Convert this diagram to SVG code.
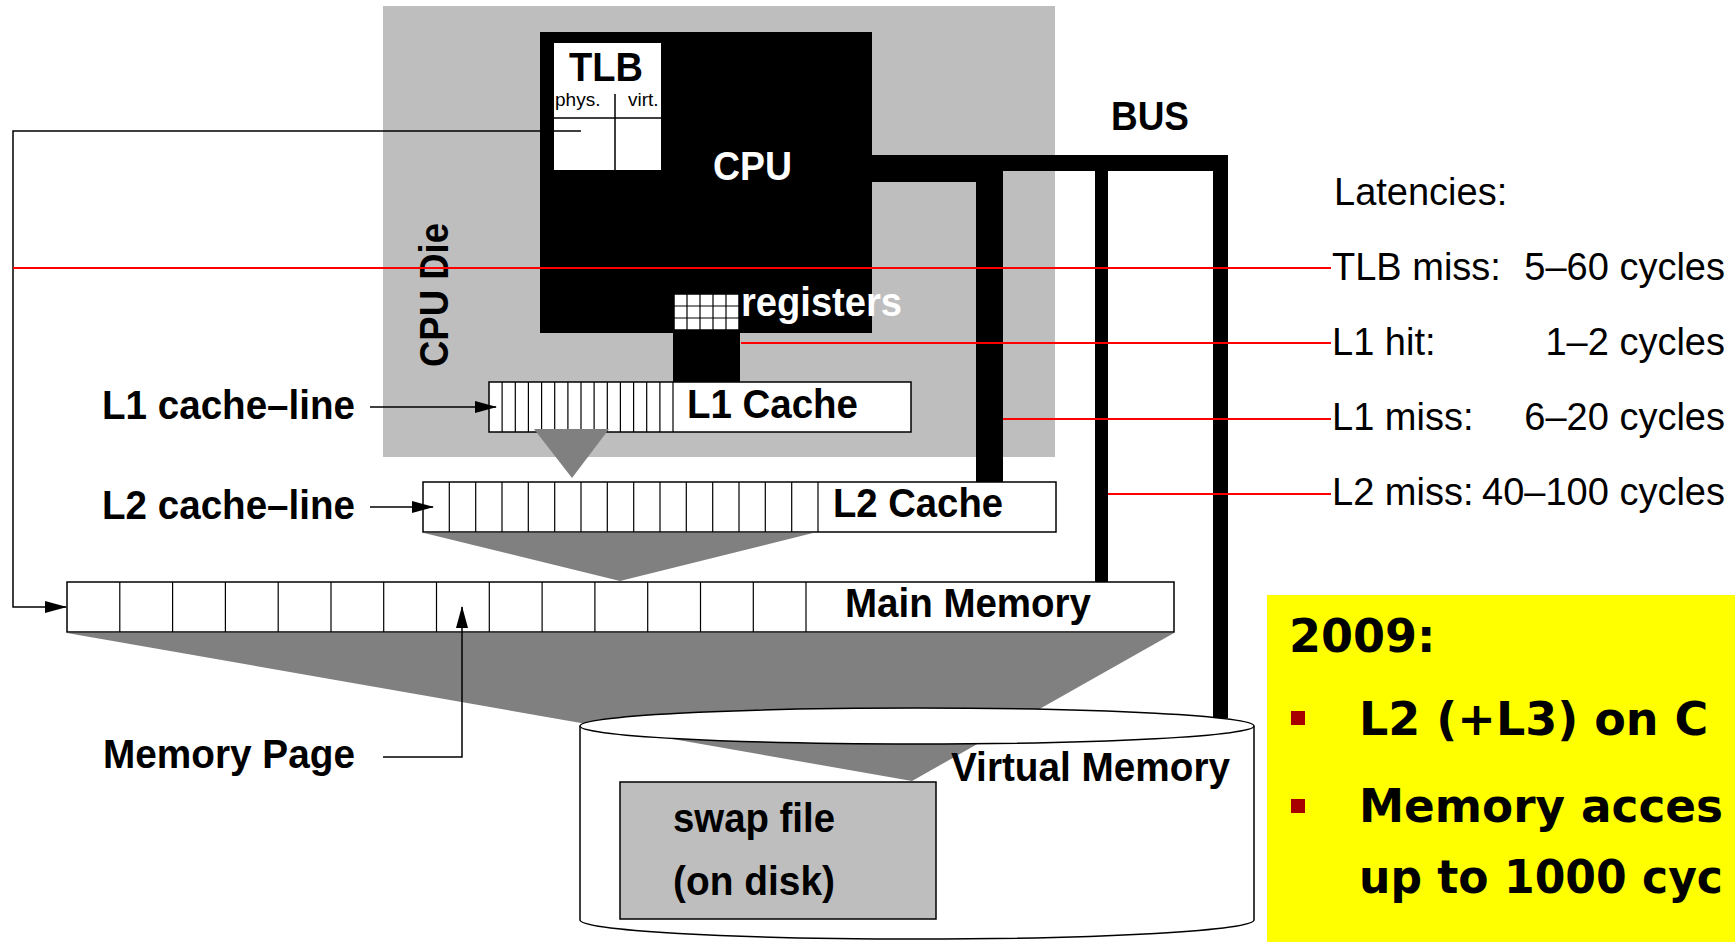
<svg xmlns="http://www.w3.org/2000/svg" width="1735" height="942" viewBox="0 0 1735 942">
<style>
.b{font-family:"Liberation Sans",Arial,sans-serif;font-weight:bold;font-size:40px;fill:#000}
.r{font-family:"Liberation Sans",Arial,sans-serif;font-size:38px;fill:#000}
.y{font-family:"DejaVu Sans",Verdana,sans-serif;font-weight:bold;font-size:46px;fill:#000}
.box{fill:#fff;stroke:#000;stroke-width:1.5}
.cell{fill:none;stroke:#000;stroke-width:1.2}
.tri{fill:#808080}
.ln{fill:none;stroke:#000;stroke-width:1.5}
.red{fill:none;stroke:#ff0000;stroke-width:2}
.bus{fill:#000}
</style>
<defs>
<marker id="arr" viewBox="0 0 22 12" markerUnits="userSpaceOnUse" markerWidth="22" markerHeight="12" refX="21" refY="6" orient="auto">
<path d="M0,0 L22,6 L0,12 Z" fill="#000"/>
</marker>
</defs>
<rect x="0" y="0" width="1735" height="942" fill="#fff"/>

<g id="cpu-die">
<rect x="383" y="6" width="672" height="451" fill="#bebebe"/>
<text class="b" transform="translate(448,367) rotate(-90)" font-size="37" textLength="144" lengthAdjust="spacingAndGlyphs">CPU Die</text>
</g>

<g id="cpu">
<rect x="540" y="32" width="332" height="301" fill="#000"/>
<text class="b" x="713" y="180" style="fill:#fff" textLength="79" lengthAdjust="spacingAndGlyphs">CPU</text>
</g>

<g id="tlb">
<rect x="554" y="43" width="107" height="127" fill="#fff"/>
<text class="b" x="569" y="81" textLength="74" lengthAdjust="spacingAndGlyphs">TLB</text>
<text x="555" y="106" font-family="Liberation Sans, Arial, sans-serif" font-size="19">phys.</text>
<text x="628" y="106" font-family="Liberation Sans, Arial, sans-serif" font-size="19">virt.</text>
<path class="ln" d="M554,118 H661 M615,94 V170"/>
</g>

<g id="registers">
<rect x="674" y="294" width="65" height="36" fill="#fff" stroke="#000" stroke-width="1.5"/>
<path class="cell" d="M687,294 V330 M700,294 V330 M713,294 V330 M726,294 V330 M674,306 H739 M674,318 H739"/>
<rect x="673" y="330" width="67" height="52" fill="#000"/>
<text class="b" x="741" y="316" font-size="34" style="fill:#fff" textLength="161" lengthAdjust="spacingAndGlyphs">registers</text>
</g>

<g id="l1-cache">
<rect class="box" x="489" y="382" width="422" height="50"/>
<path class="cell" d="M502.1,382V432M515.3,382V432M528.4,382V432M541.6,382V432M554.7,382V432M567.9,382V432M581,382V432M594.1,382V432M607.3,382V432M620.4,382V432M633.6,382V432M646.7,382V432M659.9,382V432M673,382V432"/>
<text class="b" x="687" y="418" textLength="171" lengthAdjust="spacingAndGlyphs">L1 Cache</text>
</g>

<g id="l2-cache">
<rect class="box" x="423" y="482" width="633" height="50"/>
<path class="cell" d="M449.3,482V532M475.7,482V532M502,482V532M528.3,482V532M554.7,482V532M581,482V532M607.3,482V532M633.7,482V532M660,482V532M686.3,482V532M712.7,482V532M739,482V532M765.3,482V532M791.7,482V532M818,482V532"/>
<text class="b" x="833" y="517" textLength="170" lengthAdjust="spacingAndGlyphs">L2 Cache</text>
</g>

<g id="main-memory">
<rect class="box" x="67" y="582" width="1107" height="50"/>
<path class="cell" d="M119.8,582V632M172.6,582V632M225.4,582V632M278.2,582V632M331,582V632M383.7,582V632M436.5,582V632M489.3,582V632M542.1,582V632M594.9,582V632M647.7,582V632M700.5,582V632M753.3,582V632M806,582V632"/>
<text class="b" x="845" y="617" textLength="246" lengthAdjust="spacingAndGlyphs">Main Memory</text>
</g>

<g id="mappings">
<polygon class="tri" points="534,429 609,429 572,478"/>
<polygon class="tri" points="424,533 813,533 620,581"/>
<polygon class="tri" points="67,633 1174,633 912,781"/>
</g>

<g id="virtual-memory">
<path class="ln" d="M580,726 V920 M1254,726 V920 M580,920 A337,19 0 0 0 1254,920"/>
<ellipse cx="917" cy="726" rx="337" ry="18" fill="#fff" stroke="#000" stroke-width="1.5"/>
<text class="b" x="951" y="781" textLength="279" lengthAdjust="spacingAndGlyphs">Virtual Memory</text>
</g>

<g id="swap-file">
<rect x="620" y="782" width="316" height="137" fill="#bebebe" stroke="#000" stroke-width="1.5"/>
<text class="b" x="673" y="832" textLength="162" lengthAdjust="spacingAndGlyphs">swap file</text>
<text class="b" x="673" y="895" textLength="162" lengthAdjust="spacingAndGlyphs">(on disk)</text>
</g>

<g id="labels">
<text class="b" x="1111" y="130" textLength="78" lengthAdjust="spacingAndGlyphs">BUS</text>
<text class="b" x="102" y="419" textLength="253" lengthAdjust="spacingAndGlyphs">L1 cache–line</text>
<text class="b" x="102" y="519" textLength="253" lengthAdjust="spacingAndGlyphs">L2 cache–line</text>
<text class="b" x="103" y="768" textLength="252" lengthAdjust="spacingAndGlyphs">Memory Page</text>
</g>

<g id="connectors">
<rect class="bus" x="872" y="155" width="356" height="16"/>
<rect class="bus" x="872" y="155" width="131" height="27"/>
<rect class="bus" x="976" y="155" width="27" height="327"/>
<rect class="bus" x="1095" y="155" width="13" height="427"/>
<rect class="bus" x="1213" y="155" width="15" height="563"/>
<path class="ln" d="M581,131 H13 V607 H66" marker-end="url(#arr)"/>
<path class="ln" d="M370,407 H496" marker-end="url(#arr)"/>
<path class="ln" d="M370,507 H433" marker-end="url(#arr)"/>
<path class="ln" d="M383,757 H462 V607" marker-end="url(#arr)"/>
<path class="red" d="M13,268 H1331 M741,343 H1331 M1003,419 H1331 M1108,494 H1331"/>
</g>

<g id="latencies">
<text class="r" x="1334" y="205">Latencies:</text>
<text class="r" x="1332" y="280">TLB miss:<tspan x="1725" text-anchor="end">5–60 cycles</tspan></text>
<text class="r" x="1332" y="355">L1 hit:<tspan x="1725" text-anchor="end">1–2 cycles</tspan></text>
<text class="r" x="1332" y="430">L1 miss:<tspan x="1725" text-anchor="end">6–20 cycles</tspan></text>
<text class="r" x="1332" y="505">L2 miss:<tspan x="1725" text-anchor="end">40–100 cycles</tspan></text>
</g>

<g id="note-2009">
<rect x="1267" y="595" width="468" height="347" fill="#ffff00"/>
<text class="y" x="1289" y="652">2009:</text>
<rect x="1291" y="711" width="14" height="14" fill="#a80000"/>
<text class="y" x="1359" y="735">L2 (+L3) on C</text>
<rect x="1291" y="799" width="14" height="14" fill="#a80000"/>
<text class="y" x="1359" y="822" textLength="364" lengthAdjust="spacingAndGlyphs">Memory acces</text>
<text class="y" x="1359" y="893" textLength="364" lengthAdjust="spacingAndGlyphs">up to 1000 cyc</text>
</g>
</svg>
